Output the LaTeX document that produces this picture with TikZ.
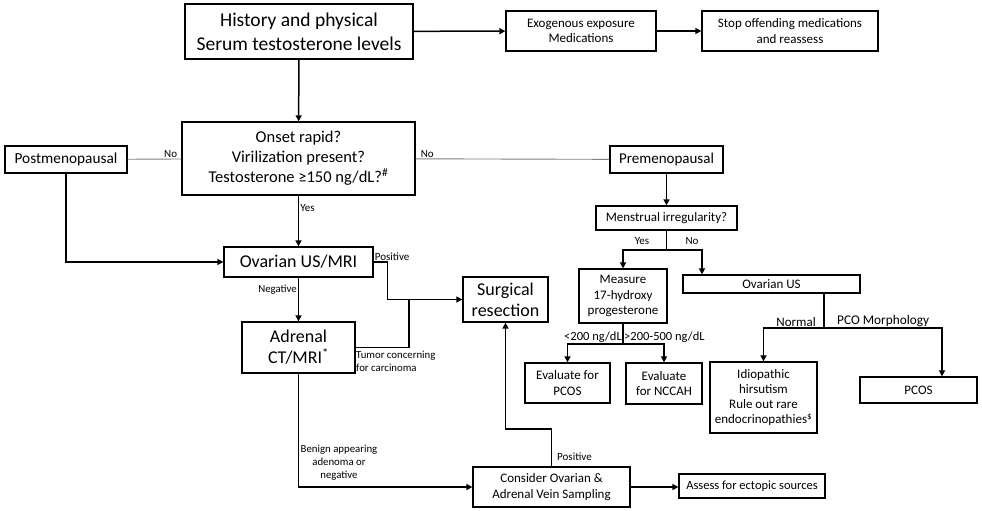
\documentclass[tikz,border=0pt]{standalone}
\usepackage{fontspec}
\setmainfont{Carlito}
\usetikzlibrary{arrows.meta}

\begin{document}
\begin{tikzpicture}[x=1pt, y=-1pt,
        box/.style={draw, line width=1.3pt, align=center, inner sep=0pt},
        big/.style={font=\fontsize{18}{22}\selectfont},
        mid/.style={font=\fontsize{13}{15.3}\selectfont},
        lbl/.style={font=\fontsize{10.8}{12.5}\selectfont, inner sep=1pt, text=black},
        ln/.style={line width=1.5pt},
        arr/.style={line width=1.5pt, -{Triangle[length=6pt,width=6pt]}},
        grayln/.style={gray, line width=0.9pt}]
        \useasboundingbox (0,0) rectangle (982,511);
        % top row
        \node[box, font=\fontsize{19.5}{24}\selectfont, minimum width=228pt, minimum height=55pt] (hist) at (299,31.5) {History and physical\\Serum testosterone levels};
        \node[box, mid, minimum width=150pt, minimum height=40pt] (exo) at (581,31) {Exogenous exposure\\Medications};
        \node[box, mid, minimum width=176pt, minimum height=40pt] (stop) at (790,31) {Stop offending medications\\and reassess};
        % second row
        \node[box, font=\fontsize{16.5}{20}\selectfont, minimum width=233pt, minimum height=73pt] (onset) at (298.5,158.5) {Onset rapid?\\Virilization present?\\Testosterone ≥150 ng/dL?\textsuperscript{\#}};
        \node[box, font=\fontsize{15.3}{17}\selectfont, minimum width=122pt, minimum height=27pt] (post) at (66,159.5) {Postmenopausal};
        \node[box, font=\fontsize{15}{17}\selectfont, minimum width=113pt, minimum height=27pt] (pre) at (666.5,159.5) {Premenopausal};
        \node[box, mid, minimum width=141pt, minimum height=24pt] (menst) at (666.5,218) {Menstrual irregularity?};
        % left branch
        \node[box, big, minimum width=149pt, minimum height=30pt] (ovary) at (298.5,262) {Ovarian US/MRI};
        \node[box, font=\fontsize{18}{21}\selectfont, minimum width=113pt, minimum height=51pt] (adrenal) at (298.5,347.5) {Adrenal\\CT/MRI\textsuperscript{*}};
        \node[box, font=\fontsize{18}{21}\selectfont, minimum width=85pt, minimum height=45pt] (surg) at (505.5,299.5) {Surgical\\resection};
        \node[box, mid, minimum width=157pt, minimum height=40pt] (consider) at (551.5,487) {Consider Ovarian \&\\Adrenal Vein Sampling};
        \node[box, font=\fontsize{12.5}{15}\selectfont, minimum width=146pt, minimum height=24pt] (assess) at (752,486) {Assess for ectopic sources};
        % right branch
        \node[box, mid, minimum width=88pt, minimum height=54pt] (measure) at (623,296) {Measure\\17-hydroxy\\progesterone};
        \node[box, mid, minimum width=177pt, minimum height=18pt] (ovus) at (771.5,284) {Ovarian US};
        \node[box, mid, minimum width=85pt, minimum height=40pt] (evpcos) at (567.5,383) {Evaluate for\\PCOS};
        \node[box, mid, minimum width=76pt, minimum height=41pt] (evnccah) at (664,383.5) {Evaluate\\for NCCAH};
        \node[box, mid, minimum width=107pt, minimum height=71pt] (idio) at (763.5,397.5) {Idiopathic\\hirsutism\\Rule out rare\\endocrinopathies\textsuperscript{\$}};
        \node[box, mid, minimum width=117pt, minimum height=26pt] (pcos) at (918.5,390) {PCOS};

        % connectors, top
        \draw[arr] (hist) -- (exo);
        \draw[arr] (exo) -- (stop);
        \draw[arr] (hist) -- (onset);
        \draw[grayln] (onset) -- node[lbl, font=\fontsize{11}{13}\selectfont, above, pos=0.2] {No} (post);
        \draw[grayln] (onset) -- node[lbl, font=\fontsize{11}{13}\selectfont, above, pos=0.06] {No} (pre);
        \draw[arr] (pre) -- (menst);
        % menstrual split
        \coordinate (msp) at (666.5,250);
        \coordinate (mno) at (702,250);
        \draw[ln] (menst) -- (msp);
        \draw[arr] (msp) -| (measure);
        \draw[arr] (msp) -- (mno) -- (mno |- ovus.north);
        \node[lbl, font=\fontsize{11}{13}\selectfont] at (642,241) {Yes};
        \node[lbl, font=\fontsize{11}{13}\selectfont] at (692,241) {No};
        % left branch
        \draw[arr] (onset) -- node[lbl, font=\fontsize{11}{13}\selectfont, right, pos=0.25] {Yes} (ovary);
        \draw[arr] (post.south) |- (ovary.west);
        \draw[arr] (ovary) -- node[lbl, left, pos=0.27] {Negative} (adrenal);
        \draw[arr] (ovary.east) -- ++(14,0) |- (surg.west);
        \node[lbl, font=\fontsize{11}{12}\selectfont, anchor=south west] at (ovary.east) {Positive};
        \coordinate (tj) at (409,299);
        \draw[ln] (adrenal.east) -| (tj);
        \node[lbl, align=left, anchor=north west] at (355,350) {Tumor concerning\\for carcinoma};
        \draw[arr] (adrenal.south) |- (consider.west);
        \node[lbl, align=center, font=\fontsize{10.8}{13}\selectfont] at (339,463) {Benign appearing\\adenoma or\\negative};
        \coordinate (cv) at (505.5,429);
        \draw[arr] (consider.north) |- (cv) -- (surg.south);
        \node[lbl, font=\fontsize{11}{12}\selectfont, anchor=west] at (556,457) {Positive};
        \draw[arr] (consider.east) -- (assess.west |- consider.east);
        % 17-OHP split
        \coordinate (hsp) at (623,344);
        \draw[ln] (measure) -- (hsp);
        \draw[arr] (hsp) -| (evpcos);
        \draw[arr] (hsp) -| (evnccah);
        \node[lbl, font=\fontsize{12.5}{14}\selectfont, anchor=south east] at (hsp) {<200 ng/dL};
        \node[lbl, font=\fontsize{12.5}{14}\selectfont, anchor=south west] at (hsp) {>200-500 ng/dL};
        % ovarian US split
        \coordinate (osp) at (824,328);
        \coordinate (pcn) at (942,328);
        \draw[ln] (ovus.south -| osp) -- (osp);
        \draw[arr] (osp) -| (idio);
        \draw[arr] (osp) -- (pcn) -- (pcn |- pcos.north);
        \node[lbl, font=\fontsize{13}{15}\selectfont, anchor=south east] at ([xshift=-7pt]osp) {Normal};
        \node[lbl, font=\fontsize{13.3}{15}\selectfont, anchor=south west] at ([xshift=12pt]osp) {PCO Morphology};
    \end{tikzpicture}
\end{document}
